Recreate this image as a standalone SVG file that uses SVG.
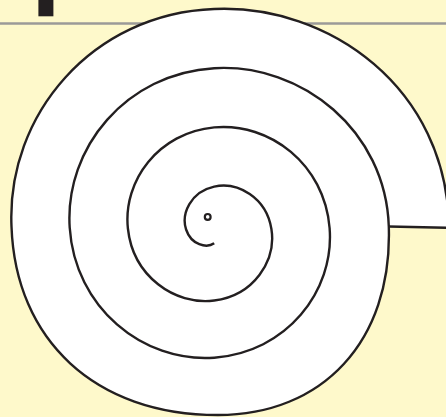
<svg xmlns="http://www.w3.org/2000/svg" width="446" height="417" viewBox="0 0 446 417">
  <style>
    .ink { fill: none; stroke: #231f20; stroke-width: 2.4; stroke-linecap: butt; stroke-linejoin: round; }
  </style>
  <rect id="background" x="0" y="0" width="446" height="417" fill="#fef9cb"/>
  <g id="header">
    <line x1="0" y1="23.5" x2="446" y2="23.5" stroke="#9b9a98" stroke-width="2.7"/>
    <rect x="38.4" y="0" width="15" height="16.3" fill="#231f20"/>
  </g>
  <g id="spiral">
    <path id="spiral-fill" fill="#ffffff" stroke="none" d="M 449,227.8 C 447.5,87.4 328.2,3.9 214.2,9.0 C 92.5,13.5 6.5,114.5 11.5,226.5 C 15.5,340 95,415 218,415 C 322,415 392.5,341.7 388.8,226.5 L 449,227.8 Z"/>
    <path id="spiral-line" class="ink" d="M 449,227.8 C 447.5,87.4 328.2,3.9 214.2,9.0 C 92.5,13.5 6.5,114.5 11.5,226.5 C 15.5,340 95,415 218,415 C 322,415 392.5,341.7 388.8,226.5 C 385.7,130.7 302.04,63.08 214.2,68.2 C 126.36,73.32 64.58,147.69 69.7,227.5 C 74.82,307.31 142.43,362.82 214.2,357.7 C 285.97,352.58 334.72,291.74 329.6,228.0 C 324.48,164.26 269.9,122.28 214.2,127.4 C 158.5,132.52 122.78,180.84 127.9,228.5 C 133.02,276.16 174.57,305.62 214.2,300.5 C 253.83,295.38 276.52,260.59 271.4,229.0 C 266.28,197.41 237.76,181.48 214.2,186.6 C 190.64,191.72 180.98,213.98 186.1,229.5 C 191.22,245.02 206.72,248.42 214.2,243.3"/>
    <path id="spiral-join" class="ink" d="M 388.8,226.5 L 449,227.8"/>
    <circle id="spiral-eye" cx="207.7" cy="216.9" r="2.9" fill="#ffffff" stroke="#231f20" stroke-width="2.2"/>
  </g>
</svg>
